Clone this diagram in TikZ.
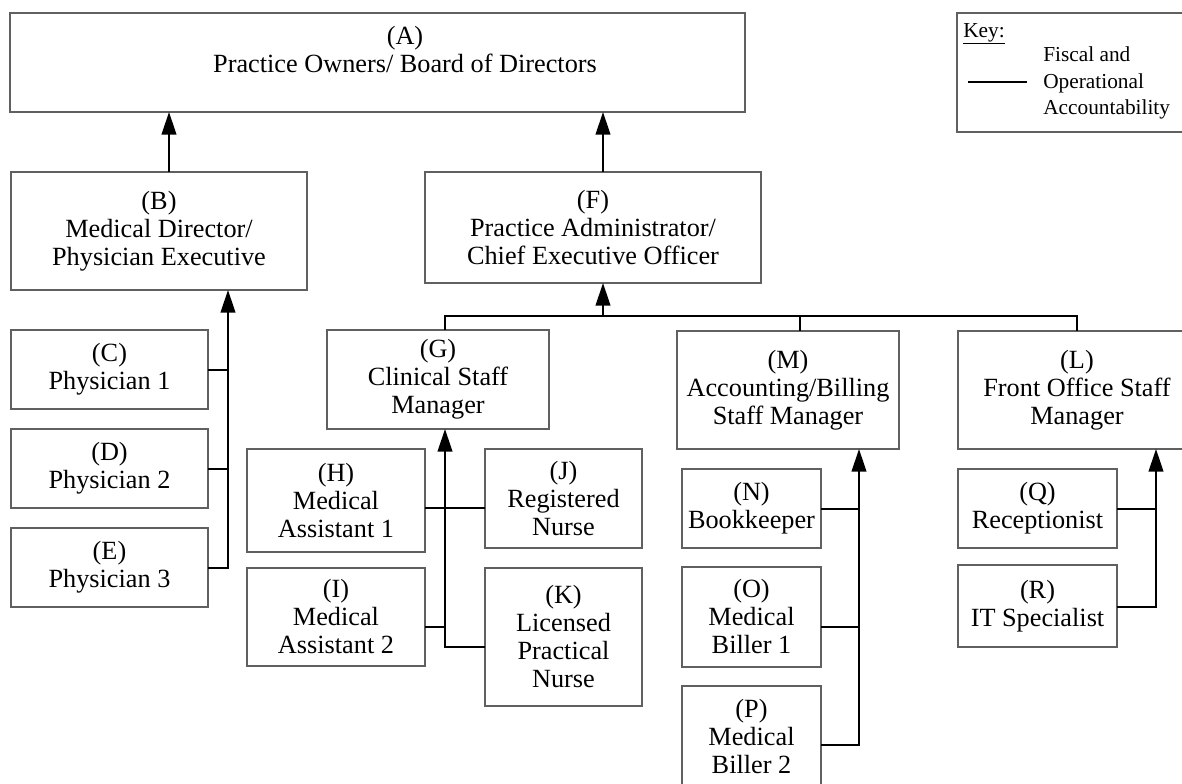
\documentclass[tikz,border=0pt]{standalone}
\usepackage{fontspec}
\setmainfont{Liberation Serif}
\usetikzlibrary{arrows.meta}
\definecolor{boxgray}{HTML}{606060}
\newcommand{\boxfont}{\fontsize{19.7}{21}\selectfont}
\newcommand{\keyfont}{\fontsize{16}{19.8}\selectfont}
\begin{document}
\begin{tikzpicture}[x=0.75pt,y=-0.75pt,
  box/.style={draw=boxgray,line width=0.9pt,fill=white,align=center,
    inner sep=0pt,outer sep=0pt,font=\boxfont,anchor=north west},
  pbox/.style 2 args={minimum width=#1*0.75pt,minimum height=#2*0.75pt},
  conn/.style={draw=black,line width=1.5pt},
  arr/.style={conn,-{Triangle[length=17pt,width=11pt]}}]
\clip (0,0) rectangle (1182,783);
\useasboundingbox (0,0) rectangle (1182,783);

% top level
\node[box,pbox={735}{99}] (A) at (10,13) {};
\node[font=\boxfont,align=center,inner sep=0pt] (Atext) at (405,50)
  {(A)\\Practice Owners/ Board of Directors};

% key
\node[box,pbox={240}{119}] (key) at (957,13) {};
\node[font=\keyfont,inner sep=0pt,anchor=base west] (keytitle) at (963,37) {\underline{Key:}};
\node[font=\keyfont,inner sep=0pt,anchor=west,align=left] (keytext) at (1043,83)
  {Fiscal and\\Operational\\Accountability};
\coordinate (keyl) at (968,82);
\coordinate (keyr) at (1027,82);
\draw[conn] (keyl) -- (keyr);

% second level
\node[box,pbox={296}{118}] (B) at (11,172) {(B)\\Medical Director/\\Physician Executive};
\node[box,pbox={336}{111}] (F) at (425,172) {(F)\\Practice Administrator/\\Chief Executive Officer};

% physicians
\node[box,pbox={197}{79}] (C) at (11,330) {(C)\\Physician 1};
\node[box,pbox={197}{79}] (D) at (11,429) {(D)\\Physician 2};
\node[box,pbox={197}{79}] (E) at (11,528) {(E)\\Physician 3};

% managers
\node[box,pbox={222}{99}] (G) at (327,330) {(G)\\Clinical Staff\\Manager};
\node[box,pbox={222}{118}] (M) at (677,331) {(M)\\Accounting/Billing\\Staff Manager};
\node[box,pbox={238}{118}] (L) at (958,331) {(L)\\Front Office Staff\\Manager};

% clinical staff
\node[box,pbox={178}{103}] (H) at (247,449) {(H)\\Medical\\Assistant 1};
\node[box,pbox={157}{99}] (J) at (485,449) {(J)\\Registered\\Nurse};
\node[box,pbox={178}{98}] (I) at (247,568) {(I)\\Medical\\Assistant 2};
\node[box,pbox={157}{138}] (K) at (485,568) {(K)\\Licensed\\Practical\\Nurse};

% accounting staff
\node[box,pbox={139}{79}] (N) at (682,469) {(N)\\Bookkeeper};
\node[box,pbox={139}{100}] (O) at (682,567) {(O)\\Medical\\Biller 1};
\node[box,pbox={139}{101}] (P) at (682,686) {(P)\\Medical\\Biller 2};

% front office staff
\node[box,pbox={159}{79}] (Q) at (958,469) {(Q)\\Receptionist};
\node[box,pbox={159}{82}] (R) at (958,565) {(R)\\IT Specialist};

% connector positions
\coordinate (xBA) at (169,0);
\coordinate (xFA) at (603,0);
\coordinate (xB) at (228,0);
\coordinate (xG) at (445,0);
\coordinate (xM) at (800,0);
\coordinate (xL) at (1077,0);
\coordinate (xMv) at (859,0);
\coordinate (xLv) at (1156,0);
\coordinate (bus) at (0,316);
\coordinate (yHJ) at (0,508);
\coordinate (yI) at (0,627);
\coordinate (yK) at (0,647);
\coordinate (yO) at (0,627);
\coordinate (yP) at (0,745);
\coordinate (yR) at (0,607);

% to the board
\draw[arr] (B.north -| xBA) -- (A.south -| xBA);
\draw[arr] (F.north -| xFA) -- (A.south -| xFA);

% physicians to medical director
\draw[arr] (E.east) -| (B.south -| xB);
\draw[conn] (C.east) -- (C.east -| xB);
\draw[conn] (D.east) -- (D.east -| xB);

% managers to administrator
\draw[conn] (G.north -| xG) |- (bus -| xL) -- (L.north -| xL);
\draw[conn] (M.north -| xM) -- (bus -| xM);
\draw[arr] (bus -| xFA) -- (F.south -| xFA);

% clinical staff to clinical manager
\draw[arr] (K.west |- yK) -| (G.south -| xG);
\draw[conn] (H.east |- yHJ) -- (J.west |- yHJ);
\draw[conn] (I.east |- yI) -- (yI -| xG);

% accounting staff to accounting manager
\draw[arr] (P.east |- yP) -| (M.south -| xMv);
\draw[conn] (N.east) -- (N.east -| xMv);
\draw[conn] (O.east |- yO) -- (yO -| xMv);

% front office staff to front office manager
\draw[arr] (R.east |- yR) -| (L.south -| xLv);
\draw[conn] (Q.east) -- (Q.east -| xLv);
\end{tikzpicture}
\end{document}
